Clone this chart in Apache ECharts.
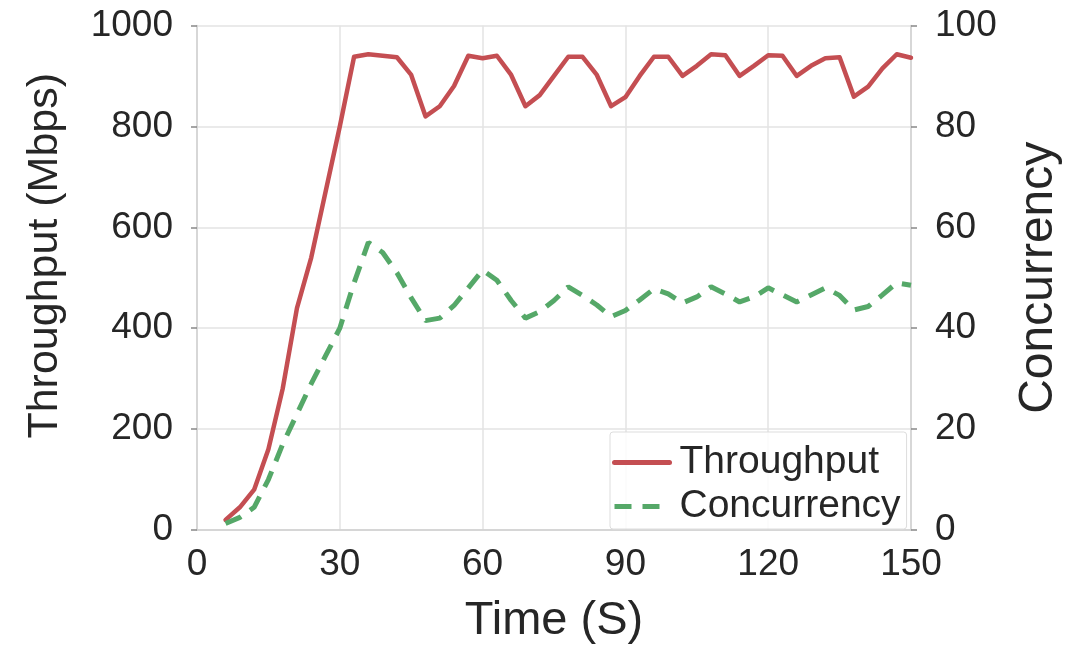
<!DOCTYPE html>
<html>
<head>
<meta charset="utf-8">
<script src="https://cdn.jsdelivr.net/npm/echarts@6/dist/echarts.min.js"></script>
<style>html,body{margin:0;padding:0;background:#fff;}#chart{width:1079px;height:645px;}</style>
</head>
<body>
<div id="chart"></div>
<script>
const timeSec = [6,9,12,15,18,21,24,27,30,33,36,39,42,45,48,51,54,57,60,63,66,69,72,75,78,81,84,87,90,93,96,99,102,105,108,111,114,117,120,123,126,129,132,135,138,141,144,147,150];
const throughput = [20,45,80,160,280,440,540,670,800,938,943,940,937,902,820,840,880,940,935,940,902,840,862,900,938,938,902,840,858,900,938,938,900,920,943,941,900,920,941,940,900,920,935,937,859,879,915,943,936];
const concurrency = [1.3,2.5,4.5,10,17,23,29,34.5,40,49,57,55,51,46,41.5,42,44.5,48,51.5,49.5,45.5,42,43.3,45.5,48.2,46.5,44.6,42.3,43.5,45.6,47.8,46.8,45,46.2,48.2,46.8,45.2,46.2,48,46.6,45.2,46.6,48,46.5,43.6,44.3,46.6,49,48.5];
const xTicks = [0,30,60,90,120,150];
const leftTicks = [0,200,400,600,800,1000];
const rightTicks = [0,20,40,60,80,100];

const FONT = '"Liberation Sans", Arial, sans-serif';
const RED = '#c44e52';
const GREEN = '#55a868';
const chart = echarts.init(document.getElementById('chart'), null, {renderer:'canvas'});
const gridColor = '#e3e3e3';
const spineColor = '#d0d0d0';
const labelColor = '#262626';

chart.setOption({
  animation:false,
  backgroundColor:'#fff',
  grid:{left:197, right:168, top:25.5, bottom:115, containLabel:false, outerBoundsMode:'none'},
  legend:{
    orient:'vertical', left:610, top:432,
    data:['Throughput','Concurrency'],
    itemWidth:55, itemHeight:14, itemGap:5,
    padding:[11,6,3,2],
    borderColor:'#dddddd', borderWidth:1, borderRadius:3,
    backgroundColor:'rgba(255,255,255,0.85)',
    itemStyle:{color:'rgba(0,0,0,0)', borderWidth:0},
    lineStyle:{width:5},
    textStyle:{fontFamily:FONT, fontSize:39, color:labelColor, padding:[0,0,0,5]}
  },
  xAxis:{
    type:'value', min:0, max:150, interval:30,
    name:'Time (S)', nameLocation:'middle', nameGap:68,
    nameTextStyle:{fontFamily:FONT, fontSize:47, color:labelColor},
    axisLine:{show:true, lineStyle:{color:spineColor, width:1.5}},
    axisTick:{show:false},
    axisLabel:{fontFamily:FONT, fontSize:37, color:labelColor, margin:16,
      formatter:v=>xTicks.includes(v)?String(v):''},
    splitLine:{show:true, lineStyle:{color:gridColor, width:1.5}}
  },
  yAxis:[{
    type:'value', min:0, max:1000, interval:200, position:'left',
    name:'Throughput (Mbps)', nameLocation:'middle', nameGap:130, nameRotate:90,
    nameTextStyle:{fontFamily:FONT, fontSize:43, color:labelColor, padding:[0,0,0,44]},
    axisLine:{show:true, lineStyle:{color:spineColor, width:1.5}},
    axisTick:{show:true, length:6, lineStyle:{color:'#888', width:1.5}},
    axisLabel:{fontFamily:FONT, fontSize:37, color:labelColor, margin:24,
      formatter:v=>leftTicks.includes(v)?String(v):''},
    splitLine:{show:true, lineStyle:{color:gridColor, width:1.5}}
  },{
    type:'value', min:0, max:100, interval:20, position:'right',
    name:'Concurrency', nameLocation:'middle', nameGap:104, nameRotate:90,
    nameTextStyle:{fontFamily:FONT, fontSize:48, color:labelColor},
    axisLine:{show:true, lineStyle:{color:spineColor, width:1.5}},
    axisTick:{show:true, length:6, lineStyle:{color:'#888', width:1.5}},
    axisLabel:{fontFamily:FONT, fontSize:37, color:labelColor, margin:24,
      formatter:v=>rightTicks.includes(v)?String(v):''},
    splitLine:{show:false}
  }],
  series:[{
    name:'Throughput', type:'line', yAxisIndex:0, symbol:'none',
    data:timeSec.map((t,i)=>[t, throughput[i]]),
    lineStyle:{color:RED, width:4.5, join:'round', cap:'round'},
    itemStyle:{color:RED}
  },{
    name:'Concurrency', type:'line', yAxisIndex:1, symbol:'none',
    data:timeSec.map((t,i)=>[t, concurrency[i]]),
    lineStyle:{color:GREEN, width:5, type:[17,11]},
    itemStyle:{color:GREEN}
  }]
});
</script>
</body>
</html>
